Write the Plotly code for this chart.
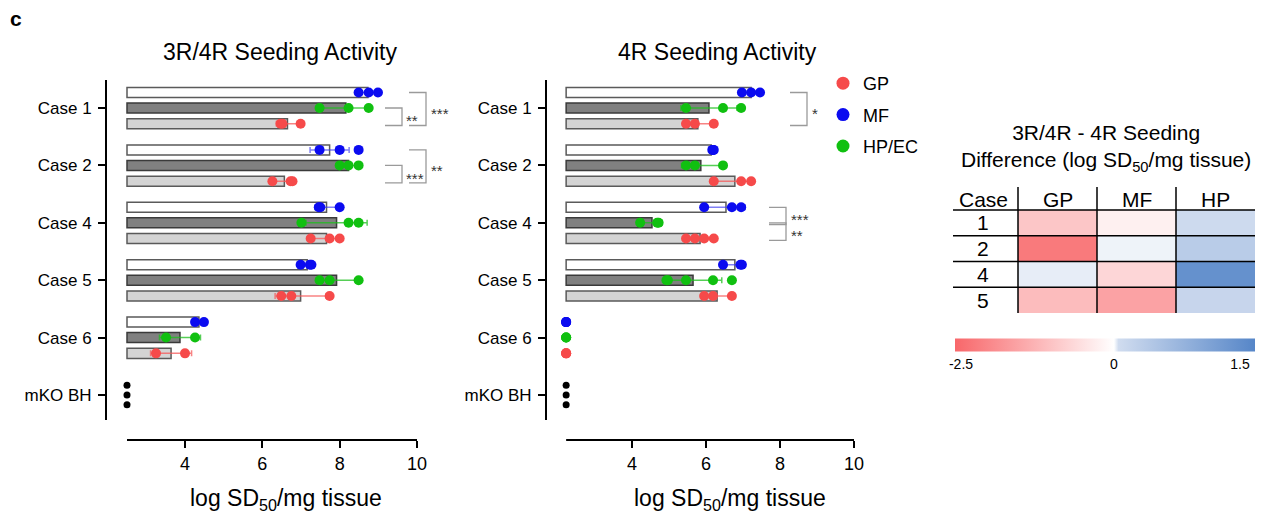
import numpy as np
import plotly.graph_objects as go

# the page body adds an 8 px margin, so the figure is drawn smaller and shifted
W, H = 1263, 528
OFF = 8
FW, FH = W - 2 * OFF, H - 2 * OFF

cases = ["Case 1", "Case 2", "Case 4", "Case 5", "Case 6", "mKO BH"]

# 3R/4R seeding activity, log SD50/mg tissue (bars = mean, dots = replicates)
lod_34 = 2.5
mf_34_mean = [8.73, 7.74, 7.66, 7.16, 4.36]
hp_34_mean = [8.16, 8.23, 7.92, 7.92, 3.87]
gp_34_mean = [6.65, 6.57, 7.66, 6.99, 3.64]
mf_34_pts = [[8.49, 8.75, 8.99], [7.48, 8.0, 8.49], [7.46, 7.50, 8.0], [6.99, 7.23, 7.27], [4.26, 4.49]]
hp_34_pts = [[7.48, 8.23, 8.75], [8.0, 8.23, 8.49], [7.01, 8.23, 8.49], [7.48, 7.74, 8.49], [3.51, 4.26]]
gp_34_pts = [[6.47, 6.52, 6.99], [6.26, 6.73, 6.78], [7.25, 7.74, 8.0], [6.49, 6.75, 7.74], [3.25, 4.0]]
ko_34_pts = [2.5, 2.5, 2.5]

# 4R seeding activity
lod_4 = 2.22
mf_4_mean = [7.22, 6.14, 6.54, 6.78, None]
hp_4_mean = [6.08, 5.86, 4.54, 5.65, None]
gp_4_mean = [5.78, 6.78, 5.84, 6.30, None]
mf_4_pts = [[6.97, 7.22, 7.46], [6.17, 6.19, 6.21], [5.95, 6.70, 6.95], [6.46, 6.93, 6.97], [2.22, 2.22, 2.22]]
hp_4_pts = [[5.46, 6.46, 6.95], [5.46, 5.70, 6.46], [4.22, 4.68, 4.72], [4.93, 4.97, 5.46, 6.19, 6.70], [2.22, 2.22, 2.22]]
gp_4_pts = [[5.46, 5.70, 6.21], [6.21, 6.95, 7.22], [5.46, 5.70, 5.95, 6.21], [5.95, 6.19, 6.70], [2.22, 2.22, 2.22]]
ko_4_pts = [2.22, 2.22, 2.22]

# significance: (case index, from bar, to bar, label)
sig_34 = [(0, "MF", "GP", "***"), (0, "HP", "GP", "**"), (1, "MF", "GP", "**"), (1, "HP", "GP", "***")]
sig_4 = [(0, "MF", "GP", "*"), (2, "MF", "HP", "***"), (2, "HP", "GP", "**")]

# 3R/4R - 4R difference heatmap
heat_cases = ["1", "2", "4", "5"]
heat_cols = ["GP", "MF", "HP"]
diff_gp = [-0.94, -2.19, 0.024, -1.10]
diff_mf = [-0.25, 0.017, -0.67, -1.53]
diff_hp = [0.08, 0.32, 1.32, 0.16]
cbar_ticks = [-2.5, 0, 1.5]


def px(x):
    return min((x - OFF) / FW, 1)


def py(y):
    return 1 - (y - OFF) / FH


FONT = "Liberation Sans, Arial, sans-serif"
offsets = {"MF": -0.27, "HP": 0.0, "GP": 0.275}
bar_style = {"MF": ("#ffffff", "#5a5a5a"), "HP": ("#808080", "#3a3a3a"), "GP": ("#d4d4d4", "#5a5a5a")}
dot_color = {"GP": "#f64a4a", "MF": "#0b0bf0", "HP": "#10c010"}
err_color = {"GP": "rgba(246,90,90,0.75)", "MF": "rgba(60,60,240,0.65)", "HP": "rgba(30,190,30,0.75)"}
legend_name = {"GP": "GP", "MF": "MF", "HP": "HP/EC"}
legend_rank = {"GP": 1, "MF": 2, "HP": 3}

fig = go.Figure()


def add_panel(xa, ya, lod, means, pts, ko_pts):
    for g in ["MF", "HP", "GP"]:
        off = offsets[g]
        m = means[g]
        idx = [i for i, v in enumerate(m) if v is not None]
        yy = [i + off for i in idx]
        fill, edge = bar_style[g]
        fig.add_trace(go.Bar(
            x=[m[i] - lod for i in idx], y=yy, base=lod, orientation="h", width=0.175,
            marker=dict(color=fill, line=dict(color=edge, width=1.5)),
            xaxis=xa, yaxis=ya, showlegend=False, hoverinfo="skip"))
        sd = [float(np.std(pts[g][i], ddof=1)) for i in idx]
        fig.add_trace(go.Scatter(
            x=[m[i] for i in idx], y=yy, mode="markers",
            marker=dict(size=1, color="rgba(0,0,0,0)"),
            error_x=dict(type="data", array=sd, color=err_color[g], thickness=1.5, width=3),
            xaxis=xa, yaxis=ya, showlegend=False, hoverinfo="skip"))
    for g in ["MF", "HP", "GP"]:
        xs, ys = [], []
        for i, p in enumerate(pts[g]):
            xs += p
            ys += [i + offsets[g]] * len(p)
        fig.add_trace(go.Scatter(
            x=xs, y=ys, mode="markers", name=legend_name[g],
            marker=dict(size=10, color=dot_color[g]),
            legendgroup=g, showlegend=False, xaxis=xa, yaxis=ya))
    fig.add_trace(go.Scatter(
        x=ko_pts, y=[5 - 0.17, 5, 5 + 0.17], mode="markers",
        marker=dict(size=7, color="black"), xaxis=xa, yaxis=ya, showlegend=False))


add_panel("x", "y", lod_34,
          {"MF": mf_34_mean, "HP": hp_34_mean, "GP": gp_34_mean},
          {"MF": mf_34_pts, "HP": hp_34_pts, "GP": gp_34_pts}, ko_34_pts)
add_panel("x2", "y2", lod_4,
          {"MF": mf_4_mean, "HP": hp_4_mean, "GP": gp_4_mean},
          {"MF": mf_4_pts, "HP": hp_4_pts, "GP": gp_4_pts}, ko_4_pts)

# legend entries (slightly larger dots than the data points)
for g in ["GP", "MF", "HP"]:
    fig.add_trace(go.Scatter(
        x=[None], y=[None], mode="markers", name=legend_name[g],
        marker=dict(size=13, color=dot_color[g]), legendgroup=g, legendrank=legend_rank[g],
        showlegend=True, xaxis="x", yaxis="y"))

# heatmap with piecewise colour bar (white point at 53 % of bar)
z = np.array([diff_gp, diff_mf, diff_hp]).T
neg_part, pos_part = 0.53, 0.47
z_plot = np.where(z < 0, z / 2.5 * neg_part, z / 1.5 * pos_part)
cbar_x0 = 955
cbar_len = FW + OFF - cbar_x0
# labels sit slightly inside the bar ends, as in the source figure
tick_pos = [t / 2.5 * neg_part + 6 / cbar_len if t < 0 else (t / 1.5 * pos_part - 15 / cbar_len if t > 0 else 0)
            for t in cbar_ticks]
fig.add_trace(go.Heatmap(
    z=z_plot, x=[0, 1, 2], y=[0, 1, 2, 3], customdata=z, xaxis="x3", yaxis="y3",
    zmin=-neg_part, zmax=pos_part,
    colorscale=[[0, "#f8676a"], [0.53, "#ffffff"], [0.545, "#d0dcef"], [1, "#5686c8"]],
    hovertemplate="%{customdata:.2f}<extra></extra>",
    colorbar=dict(orientation="h", x=px(cbar_x0), xanchor="left", y=py(352.5), yanchor="middle",
                  len=cbar_len / FW, lenmode="fraction", thickness=13, xpad=0, ypad=0,
                  outlinewidth=0, tickvals=tick_pos, ticktext=[str(t) for t in cbar_ticks],
                  ticks="", ticklabeloverflow="allow",
                  tickfont=dict(size=14, family=FONT, color="black"))))

shapes = []
annotations = []


def note(text, x, y, size, xref="paper", yref="paper", xanchor="center", **kw):
    annotations.append(dict(text=text, x=x, y=y, xref=xref, yref=yref, xanchor=xanchor,
                            yanchor=kw.pop("yanchor", "middle"), showarrow=False,
                            font=dict(size=size, color=kw.pop("color", "black")), **kw))


# detached x-axis lines
for xa, lod in [("x", lod_34), ("x2", lod_4)]:
    shapes.append(dict(type="line", xref=xa, yref="paper", x0=lod, x1=10, y0=py(440), y1=py(440),
                       line=dict(color="black", width=2)))


def bracket(ya, case, a, b, label, x0, x1, xl):
    y0 = case + offsets[a]
    y1 = case + offsets[b] + 0.03
    shapes.append(dict(type="path", xref="paper", yref=ya,
                       path=f"M {px(x0)},{y0} L {px(x1)},{y0} L {px(x1)},{y1} L {px(x0)},{y1}",
                       line=dict(color="#9a9a9a", width=1.3)))
    note(label, px(xl), (y0 + y1) / 2, 15, yref=ya, xanchor="left", yshift=-4, color="#333333")


for case, a, b, label in sig_34:
    if a == "MF":
        bracket("y", case, a, b, label, 409, 426, 429)
    else:
        bracket("y", case, a, b, label, 385, 402, 404)
for case, a, b, label in sig_4:
    if case == 0:
        bracket("y2", case, a, b, label, 790, 807, 810)
    else:
        bracket("y2", case, a, b, label, 769, 786, 789)

# heatmap grid
for r in [-0.5, 0.5, 1.5, 2.5]:
    shapes.append(dict(type="line", xref="paper", yref="y3", x0=px(953), x1=1, y0=r, y1=r,
                       line=dict(color="black", width=1.5)))
for c in [-0.5, 0.5, 1.5]:
    shapes.append(dict(type="line", xref="x3", yref="paper", x0=c, x1=c, y0=py(313), y1=py(187),
                       line=dict(color="black", width=1.5)))
for i, lab in enumerate(heat_cases):
    note(lab, px(983), i, 21, yref="y3")
note("Case", px(983), py(199), 21)
for i, lab in enumerate(heat_cols):
    note(lab, i, py(199), 21, xref="x3")

# titles and labels
note("<b>c</b>", 0, py(18), 21, xanchor="left")
note("3R/4R Seeding Activity", px(280), py(52), 23)
note("4R Seeding Activity", px(717), py(52), 23)
note("log SD<sub>50</sub>/mg tissue", px(286), py(499), 23)
note("log SD<sub>50</sub>/mg tissue", px(730), py(499), 23)
note("3R/4R - 4R Seeding<br>Difference (log SD<sub>50</sub>/mg tissue)", px(1106), py(148), 21)


def x_axis(d0, d1, t4):
    # pixel scale: 4 at t4, 10 at d1 - 2 px
    scale = (d1 - 2 - t4) / 6
    return dict(domain=[px(d0), px(d1)], range=[4 - (t4 - d0) / scale, 10 + 2 / scale],
                anchor="free", position=py(440), showline=False, showgrid=False, zeroline=False,
                ticks="outside", ticklen=7, tickwidth=1.5, tickcolor="black",
                tickvals=[4, 6, 8, 10], tickfont=dict(size=18))


def y_axis(xa):
    return dict(domain=[py(420), py(80)], range=[5.436, -0.488], anchor=xa,
                tickvals=list(range(6)), ticktext=cases, ticks="outside", ticklen=7, tickwidth=1.5,
                tickcolor="black", showline=True, linewidth=2, linecolor="black", showgrid=False,
                zeroline=False, tickfont=dict(size=17), ticklabelstandoff=3)


row_px = (313 - 210) / 4
col_px = (FW + OFF - 1018) / 3
fig.update_layout(
    width=FW, height=FH,
    margin=dict(l=0, r=0, t=0, b=0, autoexpand=False),
    paper_bgcolor="white", plot_bgcolor="white",
    font=dict(family=FONT, color="black"),
    barmode="overlay",
    xaxis=x_axis(107, 419, 185),
    yaxis=y_axis("x"),
    xaxis2=x_axis(547, 856, 632),
    yaxis2=y_axis("x2"),
    xaxis3=dict(domain=[px(1016), 1], range=[-0.5 - 2 / col_px, 2.5], visible=False, anchor="y3"),
    yaxis3=dict(domain=[py(315), py(208)], range=[3.5 + 2 / row_px, -0.5 - 2 / row_px],
                visible=False, anchor="x3"),
    showlegend=True,
    legend=dict(x=px(823), y=py(65), xanchor="left", yanchor="top", font=dict(size=18),
                traceorder="grouped", tracegroupgap=5, bgcolor="rgba(0,0,0,0)"),
    shapes=shapes,
    annotations=annotations,
)

fig.write_html("out.html")
